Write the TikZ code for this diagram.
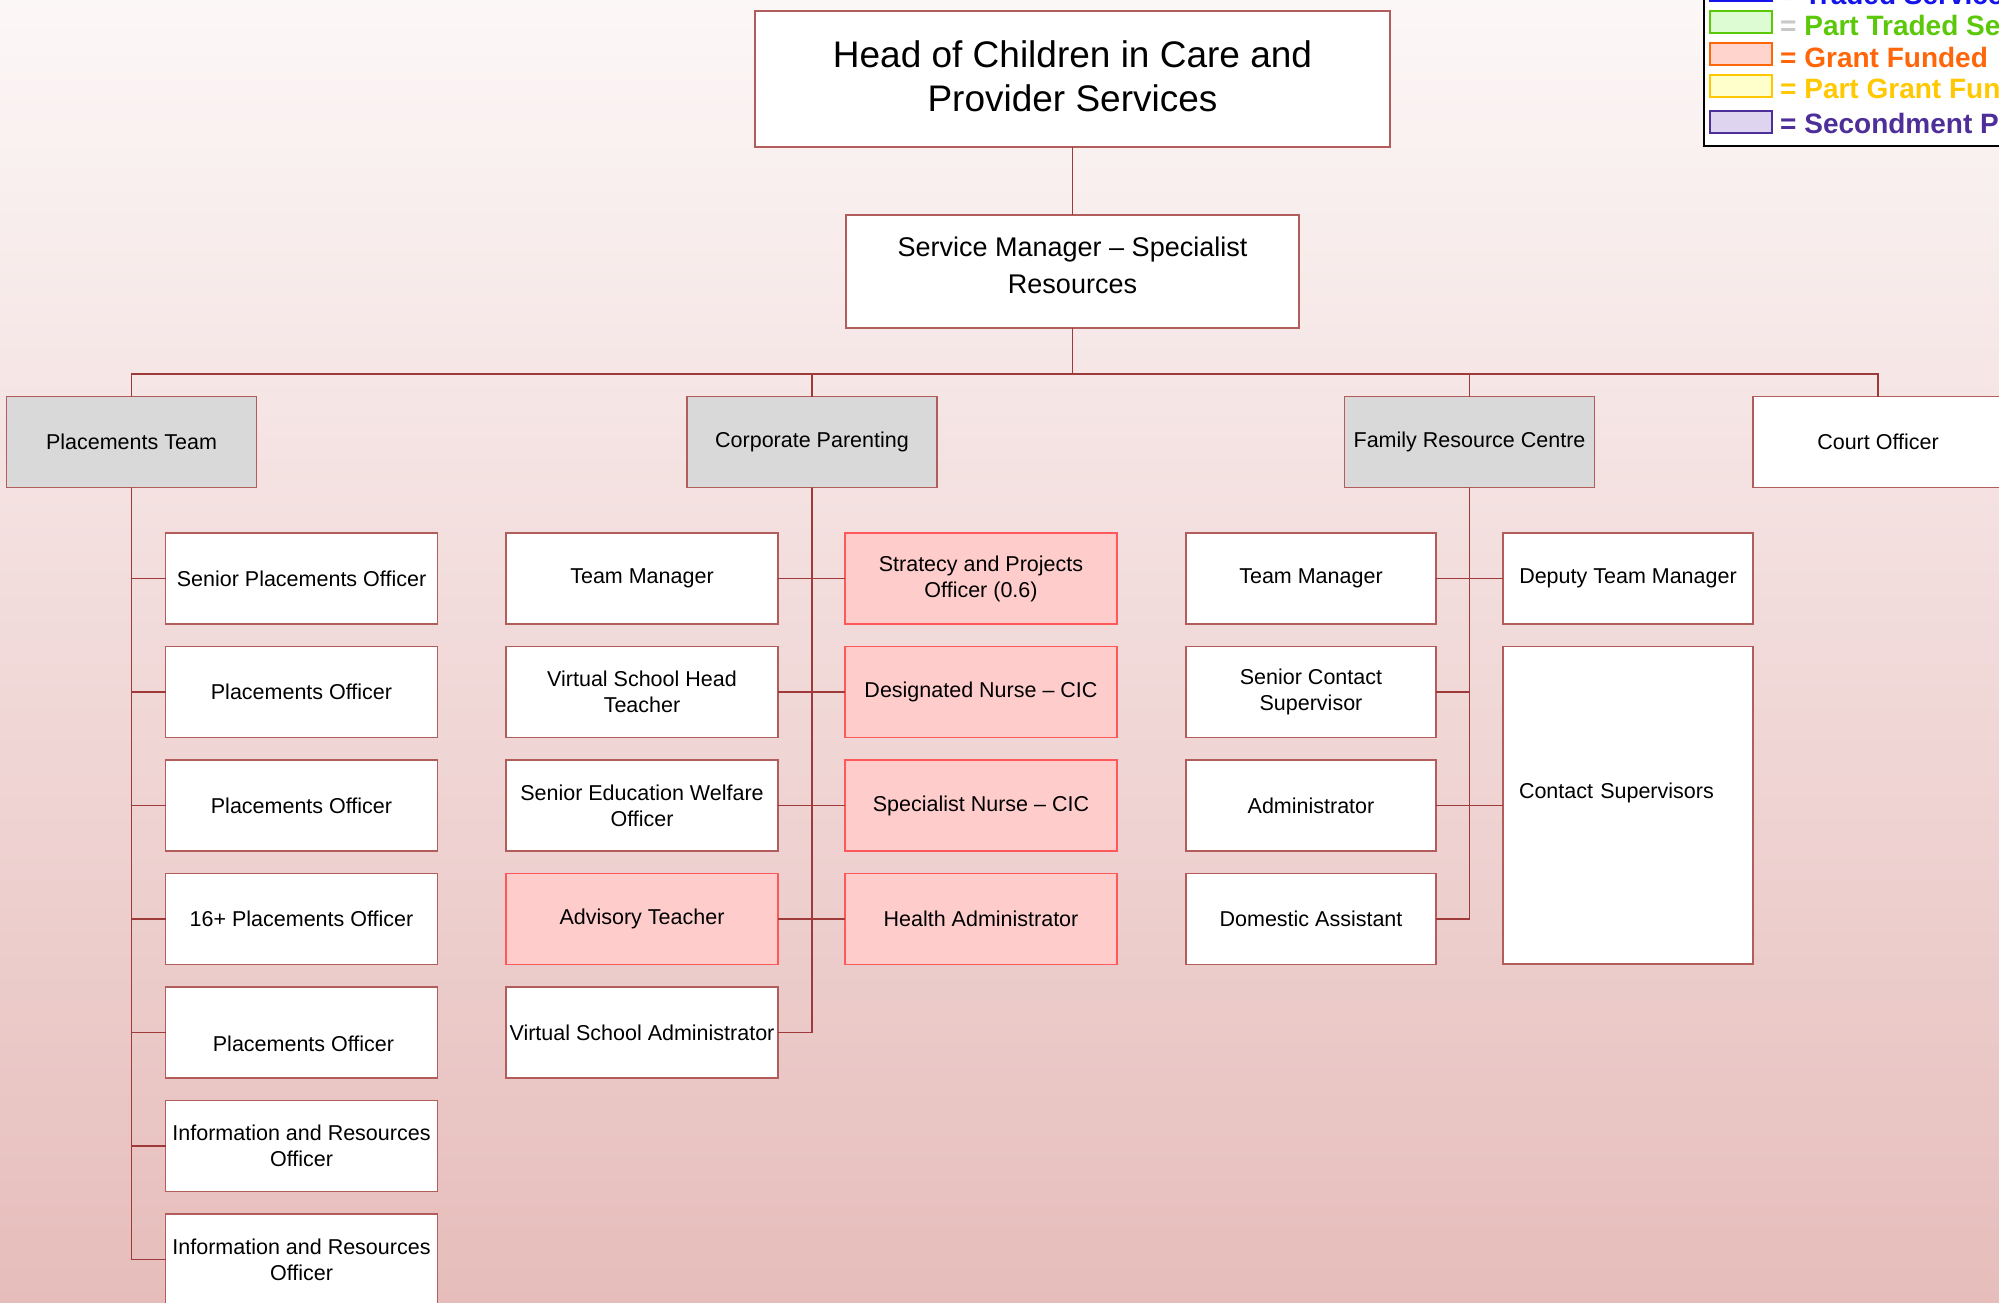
\documentclass[tikz,border=0pt]{standalone}
\usepackage{fontspec}
\setmainfont{Liberation Sans}
\usepackage{tikz}
\usetikzlibrary{shapes,arrows,positioning,fit,backgrounds}
\definecolor{bgtop}{RGB}{252, 247, 247}
\definecolor{bgbottom}{RGB}{230, 189, 187}
\definecolor{linered}{RGB}{158, 58, 58}
\definecolor{boxred}{RGB}{178, 92, 92}
\definecolor{grantred}{RGB}{255, 88, 88}
\definecolor{grantpink}{RGB}{255, 204, 204}
\definecolor{teamgray}{RGB}{217, 217, 217}
\definecolor{tradedblue}{RGB}{20, 20, 235}
\definecolor{tradedfill}{RGB}{215, 225, 255}
\definecolor{partgreen}{RGB}{92, 200, 10}
\definecolor{partgreenfill}{RGB}{222, 252, 212}
\definecolor{grantorange}{RGB}{255, 102, 10}
\definecolor{grantorangefill}{RGB}{255, 212, 204}
\definecolor{partyellow}{RGB}{255, 200, 0}
\definecolor{partyellowfill}{RGB}{255, 255, 204}
\definecolor{secondpurple}{RGB}{78, 46, 152}
\definecolor{secondpurplefill}{RGB}{222, 212, 240}
\definecolor{eqgray}{RGB}{200, 200, 200}
\tikzstyle{post} = [rectangle, draw=boxred, line width=1.3pt, fill=white, text=black, align=center, font=\fontsize{21.5}{26}\selectfont, inner sep=2pt, outer sep=0pt, minimum width=272pt, minimum height=91pt]
\tikzstyle{frcpost} = [post, minimum width=250pt]
\tikzstyle{team} = [post, fill=teamgray, minimum width=250pt]
\tikzstyle{grant} = [post, draw=grantred, fill=grantpink]
\tikzstyle{tline} = [draw=linered, line width=1.5pt]
\tikzstyle{swatch} = [rectangle, line width=2pt, minimum width=62pt, minimum height=22pt, inner sep=0pt]
\tikzstyle{legtext} = [anchor=base west, inner sep=0pt, font=\fontsize{28}{32}\selectfont\bfseries]

\begin{document}
\begin{tikzpicture}[x=1pt, y=-1pt]

\useasboundingbox (0,0) rectangle (1999,1303);
\fill[top color=bgtop, bottom color=bgbottom] (0,0) rectangle (1999,1303);

% top of the chart =======================
\node[post, minimum width=635pt, minimum height=136pt, text depth=6pt, font=\fontsize{37}{44}\selectfont] (head) at (1072.5,79) {Head of Children in Care and\\Provider Services};
\node[post, below=68pt of head, minimum width=453pt, minimum height=113pt, text depth=13pt, font=\fontsize{27}{37}\selectfont] (svc) {Service Manager -- Specialist\\Resources};
\coordinate (bus) at (1072.5,374);

% teams
\node[team] (place) at (131.5,442) {Placements Team};
\node[team] (corp) at (812,442) {Corporate Parenting};
\node[team] (frc) at (1469.5,442) {Family Resource Centre};
\node[frcpost] (court) at (1878,442) {Court Officer};

% placements team
\node[post] (po1) at (301.5,578.5) {Senior Placements Officer};
\node[post, below=22.5pt of po1] (po2) {Placements Officer};
\node[post, below=22.5pt of po2] (po3) {Placements Officer};
\node[post, below=22.5pt of po3] (po4) {16+ Placements Officer};
\node[post, below=22.5pt of po4] (po5) {\raisebox{-13pt}[16pt][5pt]{\hspace*{4pt}Placements Officer}};
\node[post, below=22.5pt of po5] (po6) {Information and Resources\\Officer};
\node[post, below=22.5pt of po6] (po7) {Information and Resources\\Officer};

% corporate parenting
\node[post] (cl1) at (642,578.5) {Team Manager};
\node[post, below=22.5pt of cl1] (cl2) {Virtual School Head\\Teacher};
\node[post, below=22.5pt of cl2] (cl3) {Senior Education Welfare\\Officer};
\node[grant, below=22.5pt of cl3] (cl4) {Advisory Teacher};
\node[post, below=22.5pt of cl4] (cl5) {Virtual School Administrator};
\node[grant, right=67pt of cl1] (cr1) {Stratecy and Projects\\Officer (0.6)};
\node[grant, below=22.5pt of cr1] (cr2) {Designated Nurse -- CIC};
\node[grant, below=22.5pt of cr2] (cr3) {Specialist Nurse -- CIC};
\node[grant, below=22.5pt of cr3] (cr4) {Health Administrator};

% family resource centre
\node[frcpost] (fl1) at (1311,578.5) {Team Manager};
\node[frcpost, below=22.5pt of fl1] (fl2) {Senior Contact\\Supervisor};
\node[frcpost, below=22.5pt of fl2] (fl3) {Administrator};
\node[frcpost, below=22.5pt of fl3] (fl4) {Domestic Assistant};
\node[frcpost, right=67pt of fl1] (dtm) {Deputy Team Manager};
\node[frcpost, below=22.5pt of dtm, minimum height=317.5pt, text width=218pt, inner xsep=16pt, align=left] (cs) {\raisebox{12pt}[16pt][5pt]{Contact Supervisors}};

% legend
\node[draw=black, line width=2pt, fill=white, anchor=south west, minimum width=320pt, minimum height=190pt] (legend) at (1703,147) {};
\node[swatch, draw=tradedblue, fill=tradedfill] (sw1) at (1741,-10) {};
\node[swatch, draw=partgreen, fill=partgreenfill] (sw2) at (1741,22) {};
\node[swatch, draw=grantorange, fill=grantorangefill] (sw3) at (1741,54) {};
\node[swatch, draw=partyellow, fill=partyellowfill] (sw4) at (1741,86.5) {};
\node[swatch, draw=secondpurple, fill=secondpurplefill] (sw5) at (1741,122.5) {};
\node[legtext, text=tradedblue] (lt1) at ([xshift=7pt, yshift=-3pt]sw1.south east) {= Traded Services};
\node[legtext, text=partgreen] (lt2) at ([xshift=7pt, yshift=-2pt]sw2.south east) {{\color{eqgray}=} Part Traded Services};
\node[legtext, text=grantorange] (lt3) at ([xshift=7pt, yshift=-2pt]sw3.south east) {= Grant Funded};
\node[legtext, text=partyellow] (lt4) at ([xshift=7pt]sw4.south east) {= Part Grant Funded};
\node[legtext, text=secondpurple] (lt5) at ([xshift=7pt, yshift=1pt]sw5.south east) {= Secondment Post};

% edges
\path[tline] (head) -- (svc);
\path[tline] (svc) -- (bus);
\path[tline] (place.north) |- (bus) -| (court.north);
\path[tline] (corp.north) -- (corp.north |- bus);
\path[tline] (frc.north) -- (frc.north |- bus);
\path[tline] (place.south) |- (po1.west);
\path[tline] (place.south) |- (po2.west);
\path[tline] (place.south) |- (po3.west);
\path[tline] (place.south) |- (po4.west);
\path[tline] (place.south) |- (po5.west);
\path[tline] (place.south) |- (po6.west);
\path[tline] (place.south) |- (po7.west);
\path[tline] (corp.south) |- (cl1.east);
\path[tline] (corp.south) |- (cl2.east);
\path[tline] (corp.south) |- (cl3.east);
\path[tline] (corp.south) |- (cl4.east);
\path[tline] (corp.south) |- (cl5.east);
\path[tline] (corp.south) |- (cr1.west);
\path[tline] (corp.south) |- (cr2.west);
\path[tline] (corp.south) |- (cr3.west);
\path[tline] (corp.south) |- (cr4.west);
\path[tline] (frc.south) |- (fl1.east);
\path[tline] (frc.south) |- (fl2.east);
\path[tline] (frc.south) |- (fl3.east);
\path[tline] (frc.south) |- (fl4.east);
\path[tline] (frc.south) |- (dtm.west);
\path[tline] (frc.south) |- (cs.west);

\end{tikzpicture}
\end{document}
